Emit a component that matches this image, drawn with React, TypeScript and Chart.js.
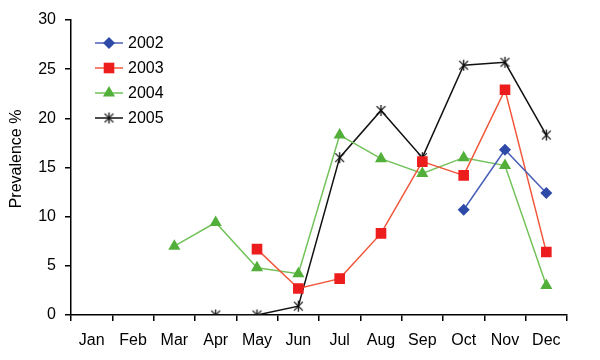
import React, { useEffect, useRef } from "react";
import { Chart, registerables } from "chart.js";

Chart.register(...registerables);

const months = ["Jan", "Feb", "Mar", "Apr", "May", "Jun", "Jul", "Aug", "Sep", "Oct", "Nov", "Dec"];
const series2002 = [null, null, null, null, null, null, null, null, null, 10.7, 16.8, 12.4];
const series2003 = [null, null, null, null, 6.7, 2.7, 3.7, 8.3, 15.6, 14.2, 22.9, 6.4];
const series2004 = [null, null, 7.0, 9.4, 4.8, 4.2, 18.3, 15.9, 14.4, 16.0, 15.2, 3.0];
const series2005 = [null, null, null, 0, 0, 0.9, 16.0, 20.8, 16.0, 25.4, 25.7, 18.3];
const seriesLabels = ["2002", "2003", "2004", "2005"];
const yTitle = "Prevalence %";

const FONT = "'Liberation Sans', Arial, sans-serif";

function makeStar(size: number, color: string): HTMLCanvasElement {
  const c = document.createElement("canvas");
  c.width = size;
  c.height = size;
  const g = c.getContext("2d")!;
  g.strokeStyle = color;
  g.lineWidth = 1.3;
  const h = size / 2;
  const r = h - 1;
  g.beginPath();
  g.moveTo(h, h - r);
  g.lineTo(h, h + r);
  const d = r * 0.8;
  g.moveTo(h - d, h - d);
  g.lineTo(h + d, h + d);
  g.moveTo(h + d, h - d);
  g.lineTo(h - d, h + d);
  g.stroke();
  return c;
}

export default function App() {
  const ref = useRef<HTMLCanvasElement | null>(null);
  useEffect(() => {
    if (!ref.current) return;
    const star = makeStar(13, "#111");
    const styles = [
      { line: "#4a5fb8", fill: "#2e4aa8", shape: "rectRot", r: 6 },
      { line: "#f0573a", fill: "#ee1d1d", shape: "rect", r: 7.5 },
      { line: "#72c25a", fill: "#52b03a", shape: "triangle", r: 7 },
      { line: "#111111", fill: "#111111", shape: star as any, r: 6 },
    ];
    const data = [series2002, series2003, series2004, series2005];
    const drawMarker = (ctx: CanvasRenderingContext2D, i: number, x: number, y: number) => {
      const s = styles[i];
      ctx.save();
      ctx.fillStyle = s.fill;
      ctx.beginPath();
      if (i === 0) {
        const r = s.r;
        ctx.moveTo(x, y - r);
        ctx.lineTo(x + r, y);
        ctx.lineTo(x, y + r);
        ctx.lineTo(x - r, y);
        ctx.closePath();
        ctx.fill();
      } else if (i === 1) {
        const a = s.r * Math.SQRT1_2;
        ctx.rect(x - a, y - a, 2 * a, 2 * a);
        ctx.fill();
      } else if (i === 2) {
        const r = s.r;
        ctx.moveTo(x, y - r);
        ctx.lineTo(x + r * 0.866, y + r * 0.5);
        ctx.lineTo(x - r * 0.866, y + r * 0.5);
        ctx.closePath();
        ctx.fill();
      } else {
        ctx.drawImage(star, x - star.width / 2, y - star.height / 2);
      }
      ctx.restore();
    };
    const legendPlugin = {
      id: "customLegend",
      afterDraw(chart: any) {
        const ctx = chart.ctx as CanvasRenderingContext2D;
        const x0 = 95, x1 = 123;
        const ys = [43, 68, 93, 118];
        ctx.save();
        seriesLabels.forEach((lab, i) => {
          const y = ys[i];
          ctx.strokeStyle = styles[i].line;
          ctx.lineWidth = 1.5;
          ctx.beginPath();
          ctx.moveTo(x0, y);
          ctx.lineTo(x1, y);
          ctx.stroke();
          drawMarker(ctx, i, (x0 + x1) / 2, y);
          ctx.fillStyle = "#000";
          ctx.font = "16px " + FONT;
          ctx.textBaseline = "middle";
          ctx.textAlign = "left";
          ctx.fillText(lab, 128, y + 1);
        });
        // y-axis title
        ctx.translate(17, 159);
        ctx.rotate(-Math.PI / 2);
        ctx.textAlign = "center";
        ctx.textBaseline = "middle";
        ctx.font = "16px " + FONT;
        ctx.fillStyle = "#000";
        ctx.fillText(yTitle, 0, 0);
        ctx.restore();
      },
    };
    const chart = new Chart(ref.current, {
      type: "line",
      data: {
        labels: months,
        datasets: data.map((d, i) => ({
          label: seriesLabels[i],
          data: d as any,
          borderColor: styles[i].line,
          backgroundColor: styles[i].fill,
          pointBackgroundColor: styles[i].fill,
          pointBorderColor: styles[i].fill,
          pointBorderWidth: 0,
          pointStyle: styles[i].shape as any,
          pointRadius: styles[i].r,
          borderWidth: 1.5,
          tension: 0,
          spanGaps: false,
        })),
      },
      options: {
        animation: false,
        responsive: false,
        devicePixelRatio: 1,
        layout: { padding: { top: 20, right: 33, left: 0, bottom: 0 } },
        plugins: { legend: { display: false }, tooltip: { enabled: false } },
        scales: {
          x: {
            type: "category",
            offset: true,
            grid: { offset: true, drawOnChartArea: false, tickLength: 6, color: "#000", lineWidth: 1.5 },
            border: { color: "#000", width: 1.5 },
            ticks: { color: "#000", font: { size: 16, family: FONT }, padding: 10, maxRotation: 0, autoSkip: false },
            afterFit: (s: any) => { s.height = 45; },
          },
          y: {
            min: 0,
            max: 30,
            ticks: { stepSize: 5, color: "#000", font: { size: 16, family: FONT }, padding: 9 },
            grid: { drawOnChartArea: false, tickLength: 6, color: "#000", lineWidth: 1.5 },
            border: { color: "#000", width: 1.5 },
            title: { display: false, text: yTitle },
            afterFit: (s: any) => { s.width = 71; },
          },
        },
      },
      plugins: [legendPlugin],
    });
    return () => chart.destroy();
  }, []);
  return (
    <div style={{ position: "fixed", left: 0, top: 0, width: 600, height: 360, background: "#fff" }}>
      <canvas ref={ref} width={600} height={360} style={{ width: 600, height: 360 }} />
    </div>
  );
}
